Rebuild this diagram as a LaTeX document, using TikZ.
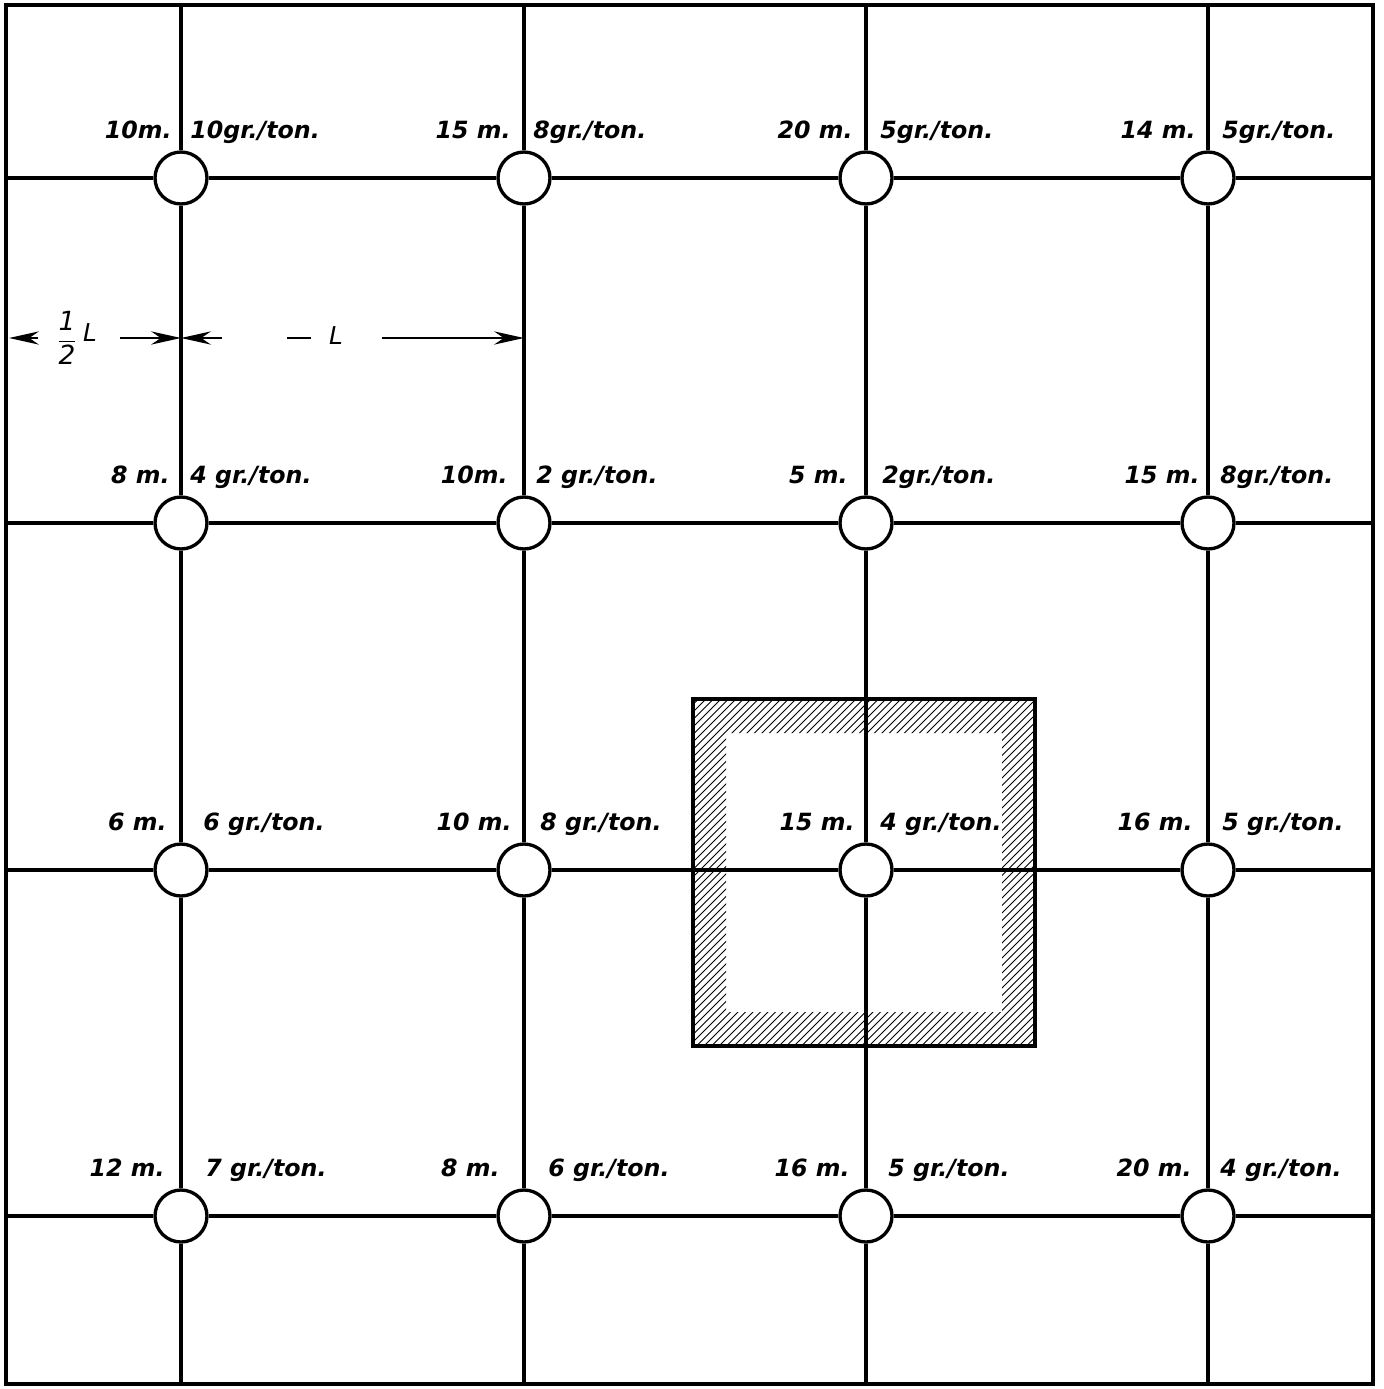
\documentclass[tikz,border=0pt]{standalone}
\usepackage{fontspec}
\newfontfamily\dvsans{DejaVu Sans}
\usetikzlibrary{arrows.meta}
\newcommand\labfont{\fontsize{13.5}{16}\selectfont\dvsans\bfseries\itshape}
\newcommand\wellcell[7]{%
  \node[well] (#1) at (#2,#3) {};
  \node[lab, anchor=base east] (#1l) at (#5,#3-40) {#4};
  \node[lab, anchor=base west] (#1r) at (#7,#3-40) {#6};
}
\begin{document}
\begin{tikzpicture}[x=0.02cm,y=-0.02cm,
  gridline/.style={line width=1.8pt},
  well/.style={circle, draw, line width=1.9pt, fill=white, minimum size=1.04cm, inner sep=0pt},
  lab/.style={font=\labfont, inner sep=0pt},
  dimline/.style={line width=1.5pt},
  dimtip/.style={-{Stealth[length=17pt,width=7.5pt]}},
  hatch/.style={line width=0.5pt}]
\useasboundingbox[fill=white] (0,0) rectangle (1383,1389);

% hatched pillar band
\begin{scope}[even odd rule]
  \clip (693,699) rectangle (1035,1046) (726,733) rectangle (1002,1012);
  \foreach \k in {340,347.5,...,1040} {\draw[hatch] (\k,1050) -- ++(370,-370);}
\end{scope}

% border and border coordinates
\draw[line width=2.4pt] (6,5) rectangle (1373,1384);
\foreach \i/\x in {1/181,2/524,3/866,4/1208} {
  \coordinate (T\i) at (\x,5);
  \coordinate (B\i) at (\x,1384);
}
\foreach \r/\y in {a/178,b/523,c/870,d/1216} {
  \coordinate (L\r) at (6,\y);
  \coordinate (R\r) at (1373,\y);
}

% wells and labels
\wellcell{a1}{181}{178}{10m.}{172}{10gr./ton.}{190}
\wellcell{a2}{524}{178}{15 m.}{511}{8gr./ton.}{533}
\wellcell{a3}{866}{178}{20 m.}{853}{5gr./ton.}{880}
\wellcell{a4}{1208}{178}{14 m.}{1196}{5gr./ton.}{1222}
\wellcell{b1}{181}{523}{8 m.}{170}{4 gr./ton.}{190}
\wellcell{b2}{524}{523}{10m.}{508}{2 gr./ton.}{536}
\wellcell{b3}{866}{523}{5 m.}{848}{2gr./ton.}{882}
\wellcell{b4}{1208}{523}{15 m.}{1200}{8gr./ton.}{1220}
\wellcell{c1}{181}{870}{6 m.}{167}{6 gr./ton.}{203}
\wellcell{c2}{524}{870}{10 m.}{512}{8 gr./ton.}{540}
\wellcell{c3}{866}{870}{15 m.}{855}{4 gr./ton.}{880}
\wellcell{c4}{1208}{870}{16 m.}{1193}{5 gr./ton.}{1222}
\wellcell{d1}{181}{1216}{12 m.}{165}{7 gr./ton.}{205}
\wellcell{d2}{524}{1216}{8 m.}{500}{6 gr./ton.}{548}
\wellcell{d3}{866}{1216}{16 m.}{850}{5 gr./ton.}{888}
\wellcell{d4}{1208}{1216}{20 m.}{1192}{4 gr./ton.}{1220}

% grid lines
\foreach \i in {1,2,3,4} {
  \draw[gridline] (T\i) -- (a\i) -- (b\i) -- (c\i) -- (d\i) -- (B\i);
}
\foreach \r in {a,b,c,d} {
  \draw[gridline] (L\r) -- (\r1) -- (\r2) -- (\r3) -- (\r4) -- (R\r);
}

% pillar outline
\draw[line width=2pt] (693,699) rectangle (1035,1046);

% dimension line
\coordinate (d0) at (9,338);
\coordinate (d0t) at (38,338);
\coordinate (d1s) at (120,338);
\coordinate (dm) at (181,338);
\coordinate (d2e) at (222,338);
\coordinate (dh1) at (287,338);
\coordinate (dh2) at (311,338);
\coordinate (d3s) at (382,338);
\coordinate (dr) at (524,338);
\draw[dimline,dimtip] (d0t) -- (d0);
\node[inner sep=0pt] (half) at (67,338) {\fontsize{15}{16}\selectfont\dvsans\itshape
  $\displaystyle\frac{\mbox{\dvsans\itshape 1}}{\mbox{\dvsans\itshape 2}}$};
\node[inner sep=0pt] (hl) at (90,333) {\fontsize{14}{16}\selectfont\dvsans\itshape L};
\draw[dimline,dimtip] (d1s) -- (dm);
\draw[dimline,dimtip] (d2e) -- (dm);
\draw[dimline] (dh1) -- (dh2);
\node[inner sep=0pt] (ell) at (336,336) {\fontsize{14}{16}\selectfont\dvsans\itshape L};
\draw[dimline,dimtip] (d3s) -- (dr);
\end{tikzpicture}
\end{document}
